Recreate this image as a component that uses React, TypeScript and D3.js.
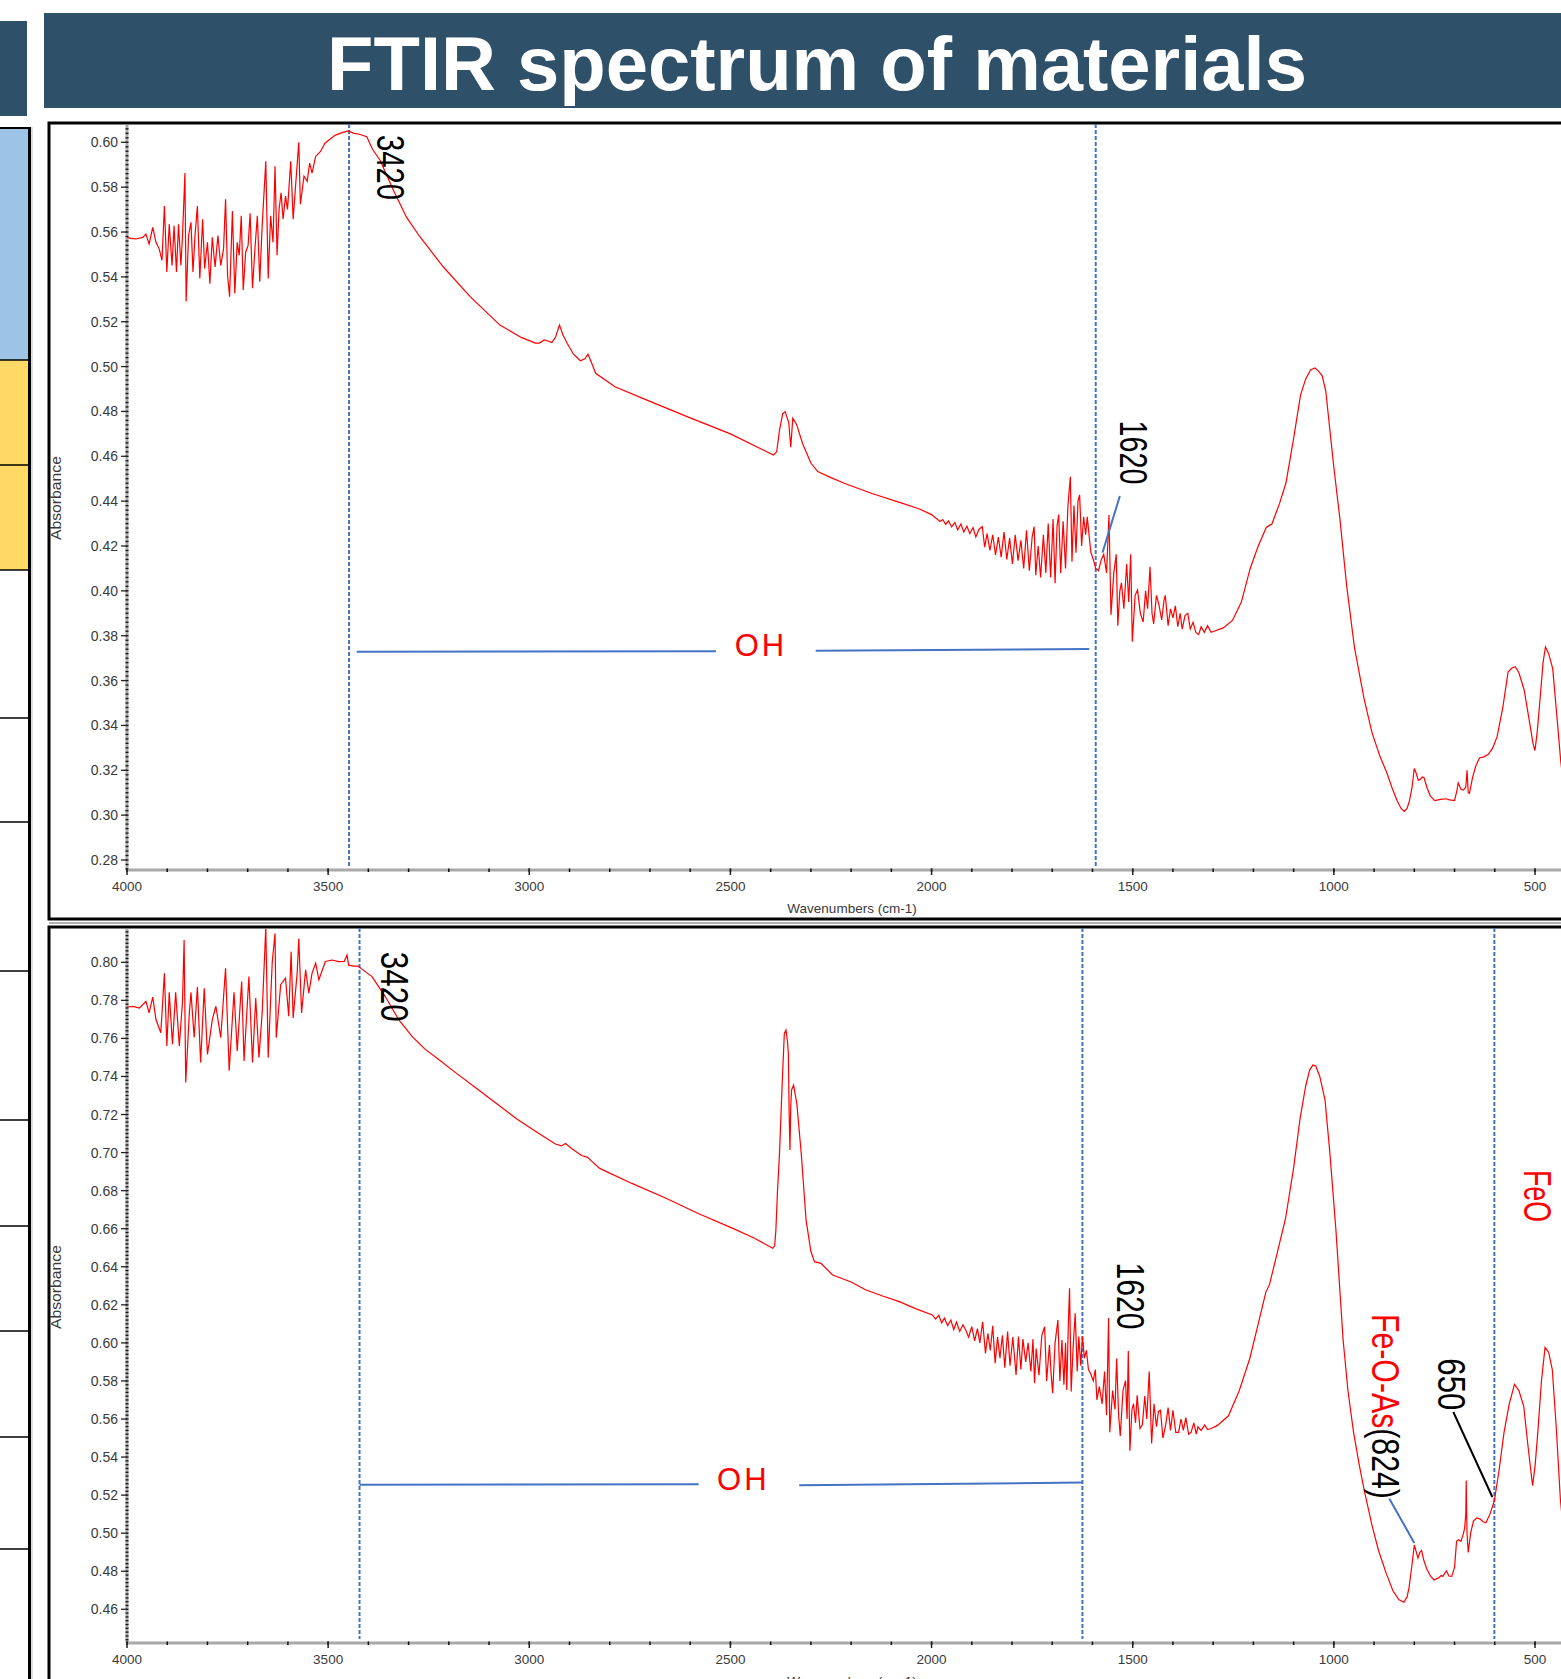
import React from 'react';
import * as d3 from 'd3';

const WIDTH = 1561;
const HEIGHT = 1679;

const TITLE = 'FTIR spectrum of materials';
const X_AXIS_TITLE = 'Wavenumbers (cm-1)';
const Y_AXIS_TITLE = 'Absorbance';

const xTickValues = [4000, 3500, 3000, 2500, 2000, 1500, 1000, 500];
const topYTickValues = [0.28, 0.3, 0.32, 0.34, 0.36, 0.38, 0.4, 0.42, 0.44, 0.46, 0.48, 0.5, 0.52, 0.54, 0.56, 0.58, 0.6];
const bottomYTickValues = [0.46, 0.48, 0.5, 0.52, 0.54, 0.56, 0.58, 0.6, 0.62, 0.64, 0.66, 0.68, 0.7, 0.72, 0.74, 0.76, 0.78, 0.8];

// [wavenumber cm-1, absorbance]
const topSpectrum: [number, number][] = [
  [4000,0.5576],[3990,0.5572],[3978,0.5569],[3961,0.5576],[3953,0.5591],[3945,0.5547],[3936,0.5621],[3928,0.5554],[3920,0.5525],[3913,0.5474],
  [3907,0.5716],[3901,0.5422],[3895,0.5635],[3888,0.5451],[3883,0.5628],[3877,0.5422],[3872,0.5635],[3866,0.5451],[3862,0.5584],[3856,0.5863],
  [3853,0.529],[3847,0.5584],[3841,0.5643],[3836,0.5422],[3831,0.5584],[3825,0.5716],[3819,0.5393],[3812,0.5657],[3807,0.5437],[3800,0.5554],
  [3794,0.537],[3788,0.5576],[3781,0.5444],[3774,0.5584],[3767,0.5451],[3760,0.5525],[3755,0.5746],[3750,0.5407],[3745,0.5312],[3738,0.5694],
  [3732,0.5326],[3726,0.5554],[3721,0.5496],[3716,0.5672],[3711,0.5341],[3705,0.551],[3699,0.554],[3694,0.5684],[3688,0.5349],[3682,0.5525],
  [3676,0.5672],[3670,0.5378],[3664,0.5628],[3655,0.5915],[3649,0.5393],[3643,0.5672],[3637,0.5554],[3632,0.5893],[3627,0.5496],[3622,0.5701],
  [3617,0.5775],[3612,0.5657],[3606,0.576],[3601,0.5701],[3593,0.5915],[3587,0.5657],[3581,0.5804],[3573,0.6],[3569,0.5724],[3560,0.5849],
  [3552,0.5826],[3546,0.5907],[3540,0.5863],[3531,0.5937],[3519,0.5959],[3508,0.5996],[3498,0.601],[3482,0.6032],[3465,0.6043],[3450,0.6051],
  [3436,0.604],[3424,0.6037],[3404,0.6025],[3390,0.597],[3371,0.592],[3338,0.5787],[3305,0.5665],[3272,0.5579],[3214,0.5445],[3147,0.5312],
  [3073,0.5185],[3020,0.513],[2985,0.5105],[2975,0.5105],[2963,0.5119],[2950,0.5112],[2944,0.5107],[2935,0.513],[2925,0.5185],[2916,0.514],
  [2906,0.5104],[2890,0.5055],[2873,0.5026],[2862,0.5035],[2854,0.5055],[2846,0.502],[2835,0.497],[2787,0.491],[2700,0.4845],[2597,0.4769],
  [2500,0.47],[2393,0.4606],[2385,0.462],[2378,0.4717],[2370,0.479],[2364,0.4799],[2355,0.475],[2350,0.464],[2345,0.477],[2335,0.474],
  [2321,0.4658],[2300,0.457],[2283,0.4532],[2250,0.4505],[2217,0.448],[2150,0.4435],[2074,0.4391],[2030,0.4365],[2000,0.434],
  [1979,0.4309],[1972,0.4318],[1965,0.4296],[1958,0.4312],[1950,0.4285],[1942,0.4305],[1935,0.4272],[1927,0.4298],[1920,0.4262],[1912,0.4288],
  [1905,0.4255],[1897,0.4282],[1890,0.424],[1882,0.4275],[1874,0.4286],[1868,0.4195],[1862,0.4255],[1855,0.418],[1848,0.425],[1841,0.416],
  [1834,0.424],[1827,0.415],[1820,0.4262],[1813,0.414],[1806,0.4235],[1799,0.412],[1792,0.425],[1785,0.4135],[1778,0.4225],[1771,0.41],
  [1764,0.427],[1757,0.409],[1750,0.424],[1745,0.4286],[1741,0.407],[1735,0.42],[1729,0.406],[1722,0.425],[1716,0.408],[1710,0.43],
  [1704,0.406],[1698,0.432],[1693,0.4034],[1688,0.429],[1684,0.434],[1679,0.408],[1673,0.431],[1667,0.41],[1661,0.438],[1655,0.4509],
  [1651,0.413],[1646,0.438],[1641,0.417],[1636,0.44],[1632,0.4428],[1627,0.42],[1622,0.433],[1617,0.425],[1613,0.433],[1608,0.424],
  [1604,0.4172],[1598,0.414],[1592,0.41],[1585,0.409],[1578,0.414],[1572,0.4163],[1565,0.408],[1559,0.4338],[1554,0.3893],[1547,0.408],
  [1541,0.4163],[1537,0.3845],[1532,0.4],[1528,0.4036],[1522,0.392],[1515,0.412],[1510,0.395],[1505,0.4163],[1501,0.3773],[1494,0.398],
  [1488,0.4004],[1481,0.39],[1474,0.3861],[1468,0.4],[1463,0.392],[1457,0.4107],[1452,0.39],[1448,0.3853],[1441,0.398],[1435,0.394],
  [1428,0.387],[1422,0.396],[1419,0.398],[1412,0.3845],[1406,0.392],[1400,0.388],[1394,0.3933],[1388,0.384],[1382,0.39],[1377,0.3829],
  [1370,0.389],[1363,0.39],[1357,0.383],[1350,0.386],[1343,0.3815],[1336,0.3805],[1330,0.384],[1322,0.3815],[1314,0.3845],[1305,0.3815],
  [1296,0.3821],[1275,0.3835],[1252,0.3868],[1230,0.395],[1208,0.41],[1188,0.42],[1168,0.4283],[1160,0.4292],[1154,0.4298],[1135,0.439],
  [1119,0.4482],[1100,0.468],[1083,0.4872],[1070,0.4945],[1058,0.4985],[1047,0.4994],[1038,0.498],[1029,0.4959],[1020,0.489],[1012,0.4753],
  [1000,0.455],[985,0.4322],[968,0.402],[949,0.375],[925,0.352],[905,0.3367],[885,0.326],[869,0.3192],[855,0.312],[843,0.3065],
  [833,0.303],[825,0.3017],[818,0.303],[812,0.3065],[806,0.312],[800,0.3208],[796,0.319],[790,0.3155],[785,0.316],[780,0.317],
  [776,0.3168],[768,0.312],[760,0.3085],[749,0.3065],[735,0.307],[722,0.3073],[712,0.3068],[700,0.3065],[694,0.311],[691,0.3144],
  [684,0.3115],[678,0.3112],[672,0.3125],[669,0.32],[666,0.31],[663,0.3097],[655,0.317],[647,0.322],[638,0.3255],[627,0.326],
  [616,0.3271],[605,0.33],[594,0.3351],[580,0.348],[567,0.3638],[558,0.3655],[549,0.3662],[540,0.3635],[527,0.3558],[515,0.343],
  [505,0.332],[500,0.3288],[494,0.338],[487,0.3527],[480,0.368],[474,0.375],[466,0.372],[456,0.3653],[446,0.345],[436,0.324],[420,0.3],
];

const bottomSpectrum: [number, number][] = [
  [4000,0.7765],[3985,0.7768],[3969,0.776],[3953,0.7795],[3945,0.7735],[3936,0.7817],[3928,0.7699],[3916,0.763],[3907,0.7943],[3901,0.756],
  [3895,0.7843],[3887,0.757],[3879,0.7843],[3870,0.756],[3862,0.7795],[3858,0.8117],[3854,0.7369],[3845,0.7736],[3841,0.7843],[3833,0.7605],
  [3825,0.787],[3817,0.7473],[3808,0.7863],[3800,0.7516],[3788,0.7699],[3779,0.7769],[3767,0.7604],[3755,0.7969],[3746,0.743],[3734,0.7843],
  [3726,0.7534],[3715,0.7899],[3709,0.7482],[3697,0.7925],[3688,0.7473],[3680,0.7812],[3672,0.7499],[3664,0.7734],[3655,0.8186],[3649,0.7499],
  [3639,0.8],[3632,0.8151],[3629,0.7604],[3618,0.7882],[3606,0.7917],[3598,0.7717],[3592,0.8056],[3587,0.7708],[3577,0.7943],[3573,0.8125],
  [3566,0.7734],[3556,0.796],[3548,0.7838],[3540,0.7943],[3531,0.7995],[3523,0.7908],[3507,0.8004],[3490,0.8012],[3474,0.8004],[3460,0.8005],
  [3453,0.8038],[3449,0.7985],[3436,0.798],[3426,0.798],[3410,0.7955],[3391,0.7925],[3358,0.782],[3325,0.77],[3292,0.7612],[3260,0.7545],
  [3226,0.749],[3180,0.7415],[3130,0.7335],[3080,0.7255],[3030,0.7175],[2980,0.7105],[2935,0.7045],[2920,0.7035],[2910,0.7048],[2895,0.7022],
  [2870,0.6985],[2855,0.6975],[2845,0.6955],[2825,0.6917],[2745,0.6838],[2660,0.676],[2580,0.668],[2494,0.6602],[2440,0.655],[2395,0.6497],
  [2390,0.651],[2387,0.6593],[2383,0.68],[2378,0.6996],[2371,0.7382],[2366,0.7627],[2362,0.7644],[2358,0.758],[2356,0.7522],[2354,0.72],
  [2352,0.7014],[2350,0.725],[2348,0.7329],[2343,0.7355],[2335,0.7259],[2324,0.6996],[2312,0.6646],[2300,0.648],[2291,0.6427],[2275,0.6418],
  [2246,0.6357],[2200,0.632],[2163,0.6278],[2120,0.6245],[2080,0.6217],[2040,0.618],[1998,0.6147],
  [1990,0.6125],[1982,0.6145],[1975,0.6105],[1968,0.613],[1960,0.609],[1952,0.612],[1945,0.607],[1938,0.611],[1930,0.606],[1922,0.6095],
  [1915,0.6068],[1908,0.603],[1900,0.6085],[1893,0.601],[1886,0.6075],[1880,0.6],[1873,0.6111],[1866,0.5945],[1860,0.605],[1854,0.596],
  [1848,0.609],[1842,0.5893],[1836,0.603],[1830,0.592],[1824,0.604],[1818,0.587],[1811,0.606],[1805,0.588],[1798,0.603],[1790,0.5831],
  [1784,0.6033],[1778,0.586],[1773,0.602],[1766,0.59],[1760,0.6],[1753,0.585],[1748,0.602],[1744,0.5788],[1740,0.597],[1733,0.583],
  [1726,0.604],[1719,0.6085],[1714,0.58],[1707,0.599],[1703,0.584],[1699,0.5735],[1693,0.6],[1686,0.612],[1681,0.58],[1676,0.6015],
  [1671,0.578],[1667,0.6],[1664,0.5753],[1660,0.61],[1657,0.6287],[1653,0.5744],[1648,0.598],[1643,0.6156],[1638,0.585],[1634,0.6033],
  [1629,0.588],[1625,0.6033],[1620,0.592],[1615,0.596],[1610,0.586],[1605,0.584],[1598,0.58],[1593,0.586],[1589,0.57],[1583,0.577],
  [1576,0.568],[1570,0.585],[1565,0.562],[1560,0.6131],[1557,0.553],[1550,0.575],[1544,0.565],[1540,0.5918],[1535,0.562],[1531,0.5511],
  [1524,0.575],[1518,0.5802],[1514,0.56],[1511,0.5957],[1507,0.5433],[1502,0.565],[1498,0.568],[1493,0.558],[1489,0.5724],[1482,0.555],
  [1476,0.5569],[1470,0.572],[1465,0.56],[1459,0.585],[1453,0.5472],[1447,0.568],[1441,0.556],[1436,0.564],[1431,0.5646],[1425,0.55],
  [1418,0.5569],[1412,0.566],[1406,0.554],[1400,0.5646],[1393,0.553],[1386,0.553],[1380,0.56],[1374,0.554],[1368,0.5607],[1361,0.552],
  [1355,0.553],[1348,0.558],[1342,0.552],[1338,0.5559],[1330,0.554],[1321,0.5569],[1314,0.5545],[1307,0.5549],[1290,0.5565],[1262,0.5617],
  [1235,0.575],[1209,0.5918],[1188,0.61],[1169,0.6267],[1160,0.6306],[1140,0.648],[1120,0.6655],[1100,0.692],[1084,0.7179],[1070,0.735],
  [1060,0.7435],[1052,0.746],[1045,0.7455],[1035,0.74],[1022,0.7277],[1010,0.7],[995,0.6597],[977,0.6015],[965,0.575],[951,0.553],
  [937,0.536],[924,0.522],[905,0.504],[889,0.4909],[870,0.479],[853,0.4696],[838,0.465],[826,0.4637],[818,0.4665],[813,0.4715],
  [806,0.483],[800,0.4938],[795,0.49],[791,0.487],[786,0.49],[782,0.4909],[776,0.4855],[769,0.4812],[760,0.4775],[751,0.4754],
  [740,0.4765],[733,0.4778],[729,0.4773],[724,0.479],[720,0.4802],[714,0.4775],[707,0.4773],[700,0.482],[695,0.4957],[690,0.4965],
  [684,0.4957],[679,0.499],[675,0.5025],[672,0.51],[671,0.5277],[669,0.5],[666,0.4899],[660,0.5],[653,0.5064],[645,0.508],
  [636,0.5074],[629,0.506],[622,0.5055],[612,0.51],[601,0.5171],[590,0.532],[577,0.553],[564,0.568],[551,0.5782],[540,0.575],
  [528,0.5666],[517,0.545],[506,0.5249],[500,0.535],[493,0.553],[484,0.58],[475,0.5976],[466,0.595],[457,0.586],[447,0.555],
  [437,0.5181],[420,0.48],
];

// annotations (data coordinates)
const topMarkerLines = [3448, 1592];
const bottomMarkerLines = [3422, 1625, 601];

const topPeakLabels = [
  { text: '3420', wn: 3346, abs: 0.5888, length: 65 },
  { text: '1620', wn: 1497, abs: 0.4617, length: 64 },
];
const bottomPeakLabels = [
  { text: '3420', wn: 3335, abs: 0.7872, length: 70 },
  { text: '1620', wn: 1506, abs: 0.6246, length: 67 },
  { text: '650', wn: 708, abs: 0.5782, length: 52 },
];
const topOHLabel = { wn: 2424, abs: 0.3756 };
const bottomOHLabel = { wn: 2468, abs: 0.5282 };
const topOHSegments: [number, number][][] = [
  [[3429, 0.3729], [2536, 0.3731]],
  [[2288, 0.3733], [1608, 0.3741]],
];
const bottomOHSegments: [number, number][][] = [
  [[3422, 0.5255], [2579, 0.5257]],
  [[2329, 0.5252], [1625, 0.5266]],
];
const topBlueLeaders: [number, number][][] = [[[1532, 0.4423], [1575, 0.4171]]];
const bottomBlueLeaders: [number, number][][] = [[[862, 0.5181], [800, 0.4949]]];
const bottomBlackLeaders: [number, number][][] = [[[703, 0.5637], [606, 0.519]]];
const feoLabel = { text: 'FeO', wn: 496, abs: 0.6772, length: 52 };
const feoAsLabel = { red: 'Fe-O-As', black: '(824)', wn: 872, abs: 0.5666, length: 185 };

// side strip row borders (px)
const sideRowLines = [570, 718, 822, 971, 1120, 1226, 1331, 1437, 1549];

const FONT = "'Liberation Sans', Arial, Helvetica, sans-serif";
const AXIS_TEXT = '#3a3a3a';
const BLUE = '#4472C4';

type PanelProps = {
  id: string;
  spectrum: [number, number][];
  yTicks: number[];
  yDomain: [number, number];
  yRange: [number, number];
  panelTop: number;
  axisY: number;
  markers: number[];
  children: (x: d3.ScaleLinear<number, number>, y: d3.ScaleLinear<number, number>) => React.ReactNode;
  yTitleCenter: number;
};

function Panel({ id, spectrum, yTicks, yDomain, yRange, panelTop, axisY, markers, children, yTitleCenter }: PanelProps) {
  const x = d3.scaleLinear().domain([4000, 500]).range([127, 1535]);
  const y = d3.scaleLinear().domain(yDomain).range(yRange);
  const line = d3.line<[number, number]>().x(d => x(d[0])).y(d => y(d[1]));
  const axisX = x(4000);
  const yAtTop = y.invert(panelTop + 2);
  const yAtBottom = y.invert(axisY);
  const minorY = d3.range(Math.ceil(yAtBottom / 0.002) * 0.002, yAtTop, 0.002);
  const minorX = d3.range(4000, 390, -100);
  return (
    <g>
      <defs>
        <clipPath id={`clip-${id}`}>
          <rect x={axisX} y={panelTop + 2} width={WIDTH - axisX} height={axisY - panelTop - 2} />
        </clipPath>
      </defs>
      {/* y axis */}
      <line x1={axisX} x2={axisX} y1={panelTop + 2} y2={axisY} stroke="#a9a9a9" strokeWidth={3} />
      {minorY.map((v, i) => (
        <line key={`my${i}`} x1={axisX - 1.5} x2={axisX + 1.5} y1={y(v)} y2={y(v)} stroke="#111" strokeWidth={1.3} />
      ))}
      {yTicks.map(v => (
        <g key={`yt${v}`}>
          <line x1={axisX - 6} x2={axisX} y1={y(v)} y2={y(v)} stroke="#222" strokeWidth={1.3} />
          <text x={axisX - 9} y={y(v) + 5} textAnchor="end" fontSize={14} fill={AXIS_TEXT} fontFamily={FONT}>
            {v.toFixed(2)}
          </text>
        </g>
      ))}
      <text
        transform={`translate(61,${yTitleCenter}) rotate(-90)`}
        textAnchor="middle"
        fontSize={14}
        fill={AXIS_TEXT}
        fontFamily={FONT}
        textLength={84}
        lengthAdjust="spacingAndGlyphs"
      >
        {Y_AXIS_TITLE}
      </text>
      {/* x axis */}
      <line x1={axisX} x2={WIDTH} y1={axisY} y2={axisY} stroke="#a9a9a9" strokeWidth={3} />
      {minorX.map(v => (
        <line key={`mx${v}`} x1={x(v)} x2={x(v)} y1={axisY - 1.5} y2={axisY + 2} stroke="#111" strokeWidth={1.5} />
      ))}
      {xTickValues.map(v => (
        <g key={`xt${v}`}>
          <line x1={x(v)} x2={x(v)} y1={axisY - 1.5} y2={axisY + 5} stroke="#222" strokeWidth={1.5} />
          <text x={x(v)} y={axisY + 21} textAnchor="middle" fontSize={13.5} fill={AXIS_TEXT} fontFamily={FONT}>
            {v}
          </text>
        </g>
      ))}
      <text x={852} y={axisY + 43} textAnchor="middle" fontSize={13.5} fill={AXIS_TEXT} fontFamily={FONT}>
        {X_AXIS_TITLE}
      </text>
      {/* marker lines */}
      {markers.map(m => (
        <line key={`mk${m}`} x1={x(m)} x2={x(m)} y1={panelTop + 1} y2={axisY - 4} stroke={BLUE} strokeWidth={2} strokeDasharray="4 2" />
      ))}
      {/* spectrum */}
      <path d={line(spectrum) || ''} fill="none" stroke="#ff0000" strokeWidth={1.2} clipPath={`url(#clip-${id})`} />
      {children(x, y)}
    </g>
  );
}

function RotLabel({ x, y, length, fill, fontSize, children }: any) {
  return (
    <text
      transform={`translate(${x},${y}) rotate(90)`}
      textAnchor="middle"
      dominantBaseline="central"
      fontSize={fontSize}
      fontFamily={FONT}
      fill={fill}
      textLength={length}
      lengthAdjust="spacingAndGlyphs"
    >
      {children}
    </text>
  );
}

function segPath(x: any, y: any, seg: [number, number][]) {
  return d3.line<[number, number]>().x(d => x(d[0])).y(d => y(d[1]))(seg) || '';
}

export default function App() {
  return (
    <div style={{ position: 'absolute', left: 0, top: 0 }}>
      <style>{'body{margin:0;background:#fff}'}</style>
      <svg width={WIDTH} height={HEIGHT} viewBox={`0 0 ${WIDTH} ${HEIGHT}`} style={{ display: 'block' }}>
        <rect x={0} y={0} width={WIDTH} height={HEIGHT} fill="#fff" />
        {/* header */}
        <rect x={0} y={21} width={27} height={95} fill="#2F5069" />
        <rect x={44} y={13} width={WIDTH - 44} height={95} fill="#2F5069" />
        <text x={817} y={90} textAnchor="middle" fontSize={76} fontWeight="bold" fill="#fff" fontFamily={FONT}>
          {TITLE}
        </text>
        {/* side strip */}
        <rect x={0} y={128} width={28} height={232} fill="#9DC3E6" />
        <rect x={0} y={360} width={28} height={105} fill="#FFD966" />
        <rect x={0} y={465} width={28} height={105} fill="#FFD966" />
        <line x1={0} x2={29} y1={128} y2={128} stroke="#000" strokeWidth={2} />
        {[360, 465, ...sideRowLines].map(v => (
          <line key={`sr${v}`} x1={0} x2={29} y1={v} y2={v} stroke="#000" strokeWidth={1.5} />
        ))}
        <line x1={29.5} x2={29.5} y1={127} y2={HEIGHT} stroke="#000" strokeWidth={3} />
        <line x1={32} x2={32} y1={127} y2={HEIGHT} stroke="#d0d0d0" strokeWidth={1.5} />
        {/* panel frames */}
        <rect x={49} y={123} width={WIDTH} height={796} fill="#fff" stroke="#000" strokeWidth={3} />
        <rect x={49} y={927} width={WIDTH} height={800} fill="#fff" stroke="#000" strokeWidth={3} />
        <line x1={49} x2={WIDTH} y1={923} y2={923} stroke="#b0b0b0" strokeWidth={2} />

        <Panel
          id="top"
          spectrum={topSpectrum}
          yTicks={topYTickValues}
          yDomain={[0.28, 0.6]}
          yRange={[860, 142.3]}
          panelTop={123}
          axisY={870}
          markers={topMarkerLines}
          yTitleCenter={498}
        >
          {(x, y) => (
            <g>
              {topOHSegments.map((s, i) => (
                <path key={`toh${i}`} d={segPath(x, y, s)} stroke={BLUE} strokeWidth={2} fill="none" />
              ))}
              <text x={x(topOHLabel.wn)} y={y(topOHLabel.abs)} textAnchor="middle" dominantBaseline="central" fontSize={31} letterSpacing={3} fill="#ff0000" fontFamily={FONT}>
                OH
              </text>
              {topBlueLeaders.map((s, i) => (
                <path key={`tbl${i}`} d={segPath(x, y, s)} stroke={BLUE} strokeWidth={2} fill="none" />
              ))}
              {topPeakLabels.map(l => (
                <RotLabel key={l.text} x={x(l.wn)} y={y(l.abs)} length={l.length} fill="#000" fontSize={39}>
                  {l.text}
                </RotLabel>
              ))}
            </g>
          )}
        </Panel>

        <Panel
          id="bottom"
          spectrum={bottomSpectrum}
          yTicks={bottomYTickValues}
          yDomain={[0.46, 0.8]}
          yRange={[1609.3, 962.3]}
          panelTop={927}
          axisY={1643}
          markers={bottomMarkerLines}
          yTitleCenter={1287}
        >
          {(x, y) => (
            <g>
              {bottomOHSegments.map((s, i) => (
                <path key={`boh${i}`} d={segPath(x, y, s)} stroke={BLUE} strokeWidth={2} fill="none" />
              ))}
              <text x={x(bottomOHLabel.wn)} y={y(bottomOHLabel.abs)} textAnchor="middle" dominantBaseline="central" fontSize={31} letterSpacing={3} fill="#ff0000" fontFamily={FONT}>
                OH
              </text>
              {bottomBlueLeaders.map((s, i) => (
                <path key={`bbl${i}`} d={segPath(x, y, s)} stroke={BLUE} strokeWidth={2} fill="none" />
              ))}
              {bottomBlackLeaders.map((s, i) => (
                <path key={`bkl${i}`} d={segPath(x, y, s)} stroke="#000" strokeWidth={2} fill="none" />
              ))}
              {bottomPeakLabels.map(l => (
                <RotLabel key={l.text} x={x(l.wn)} y={y(l.abs)} length={l.length} fill="#000" fontSize={39}>
                  {l.text}
                </RotLabel>
              ))}
              <RotLabel x={x(feoLabel.wn)} y={y(feoLabel.abs)} length={feoLabel.length} fill="#ff0000" fontSize={38}>
                {feoLabel.text}
              </RotLabel>
              <RotLabel x={x(feoAsLabel.wn)} y={y(feoAsLabel.abs)} length={feoAsLabel.length} fill="#ff0000" fontSize={38}>
                <tspan fill="#ff0000">{feoAsLabel.red}</tspan>
                <tspan fill="#000">{feoAsLabel.black}</tspan>
              </RotLabel>
            </g>
          )}
        </Panel>
      </svg>
    </div>
  );
}
